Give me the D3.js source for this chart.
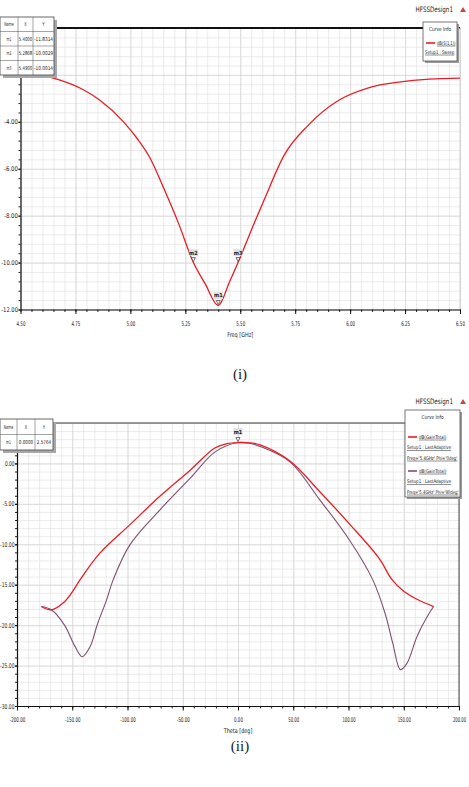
<!DOCTYPE html>
<html>
<head>
<meta charset="utf-8">
<script src="https://cdn.jsdelivr.net/npm/d3@7"></script>
<style>
  body { margin: 0; background: #fff; }
  svg text { font-family: "Liberation Sans Narrow", "DejaVu Sans Condensed", "Liberation Sans", sans-serif; fill: #222; }
  svg text.cap { font-family: "Liberation Serif", "DejaVu Serif", serif; font-size: 15px; }
  .leg text.u { text-decoration: underline; }
</style>
</head>
<body>
<div id="chart"></div>
<script>
// ---- panel (i): return loss ----
const freq = [4.50, 4.60, 4.68, 4.78, 4.86, 4.97, 5.03, 5.09, 5.155, 5.22, 5.2868, 5.34, 5.40, 5.45, 5.49, 5.56, 5.61, 5.70, 5.81, 5.95, 6.08, 6.22, 6.36, 6.50];
const s11 = [-1.88, -2.02, -2.22, -2.60, -3.07, -4.01, -4.70, -5.55, -6.90, -8.35, -10.00, -10.90, -11.83, -10.85, -10.00, -8.40, -7.30, -5.42, -4.14, -3.07, -2.56, -2.31, -2.18, -2.14];
const s11MarkerNames = ["m1", "m2", "m3"];
const s11MarkerX = [5.4000, 5.2868, 5.4900];
const s11MarkerY = [-11.8314, -10.0029, -10.0014];
const freqTicks = [4.50, 4.75, 5.00, 5.25, 5.50, 5.75, 6.00, 6.25, 6.50];
const s11Ticks = [0, -2, -4, -6, -8, -10, -12];

// ---- panel (ii): gain pattern ----
const thetaPhi0 = [-178, -169, -157, -149, -143, -125, -98, -71, -43, -21, -10, 0, 10, 20, 47, 74, 101, 128, 139, 150, 162, 177];
const gainPhi0 = [-17.7, -18.1, -17.1, -15.7, -14.4, -11.1, -7.6, -4.1, -0.8, 1.9, 2.45, 2.58, 2.55, 2.3, 0.3, -3.5, -7.5, -11.8, -14.3, -15.8, -16.8, -17.7];
const thetaPhi90 = [-178, -169, -157, -148, -141, -134, -127, -119, -113, -98, -71, -43, -21, 0, 10, 20, 47, 74, 101, 122, 133, 140, 147, 153, 162, 171, 177];
const gainPhi90 = [-17.7, -18.1, -20.0, -22.5, -23.9, -22.7, -19.8, -16.9, -14.4, -10.1, -5.8, -1.8, 1.4, 2.58, 2.5, 2.1, 0.2, -4.5, -9.5, -14.4, -18.5, -22.2, -25.5, -24.7, -21.4, -19.0, -17.7];
const gainMarkerNames = ["m1"];
const gainMarkerX = [0.0000];
const gainMarkerY = [2.5764];
const thetaTicks = [-200, -150, -100, -50, 0, 50, 100, 150, 200];
const gainTicks = [5, 0, -5, -10, -15, -20, -25, -30];

const width = 469, height = 787;
const red = "#ec1c24", purple = "#7e4f72";

const svg = d3.select("#chart").append("svg")
  .attr("width", width)
  .attr("height", height)
  .attr("viewBox", [0, 0, width, height]);

const fmt = d => d.toFixed(2);

// HFSS text is very narrow, so force widths per character
function squeeze(sel, perChar) {
  sel.each(function () {
    const t = d3.select(this);
    t.attr("textLength", t.text().length * perChar).attr("lengthAdjust", "spacingAndGlyphs");
  });
}

// draws grid, axes and frame, hands the scales back
function panel(o) {
  const x = d3.scaleLinear().domain(o.xDomain).range([o.left, o.right]);
  const y = d3.scaleLinear().domain(o.yDomain).range([o.bottom, o.top]);
  const ih = o.bottom - o.top, iw = o.right - o.left;
  const g = svg.append("g");

  // minor grid
  g.append("g").attr("class", "grid")
    .attr("transform", `translate(0,${o.bottom})`)
    .call(d3.axisBottom(x).tickValues(o.xMinor).tickSize(-ih).tickFormat("").tickSizeOuter(0));
  g.append("g").attr("class", "grid")
    .attr("transform", `translate(${o.left},0)`)
    .call(d3.axisLeft(y).tickValues(o.yMinor).tickSize(-iw).tickFormat("").tickSizeOuter(0));
  g.selectAll(".grid .domain").remove();
  g.selectAll(".grid line").attr("stroke", "#e6e6e6").attr("stroke-width", 0.8);

  // major grid a touch darker
  g.append("g").attr("class", "gridM")
    .attr("transform", `translate(0,${o.bottom})`)
    .call(d3.axisBottom(x).tickValues(o.xTicks).tickSize(-ih).tickFormat("").tickSizeOuter(0));
  g.append("g").attr("class", "gridM")
    .attr("transform", `translate(${o.left},0)`)
    .call(d3.axisLeft(y).tickValues(o.yTicks).tickSize(-iw).tickFormat("").tickSizeOuter(0));
  g.selectAll(".gridM .domain").remove();
  g.selectAll(".gridM line").attr("stroke", "#d8d8d8").attr("stroke-width", 0.8);

  // frame: top + right
  g.append("line").attr("x1", o.left).attr("x2", o.right).attr("y1", o.top).attr("y2", o.top)
    .attr("stroke", o.topColor).attr("stroke-width", o.topWidth);
  g.append("line").attr("x1", o.right).attr("x2", o.right).attr("y1", o.top).attr("y2", o.bottom)
    .attr("stroke", o.rightColor).attr("stroke-width", 1);

  // minor ticks
  g.append("g").attr("class", "minor")
    .attr("transform", `translate(0,${o.bottom})`)
    .call(d3.axisBottom(x).tickValues(o.xMinor).tickSize(2.5).tickFormat("").tickSizeOuter(0));
  g.append("g").attr("class", "minor")
    .attr("transform", `translate(${o.left},0)`)
    .call(d3.axisLeft(y).tickValues(o.yMinor).tickSize(2).tickFormat("").tickSizeOuter(0));
  g.selectAll(".minor .domain").remove();
  g.selectAll(".minor line").attr("stroke", "#222");

  // major axes
  const xa = g.append("g")
    .attr("transform", `translate(0,${o.bottom})`)
    .call(d3.axisBottom(x).tickValues(o.xTicks).tickFormat(fmt).tickSizeInner(4.5).tickSizeOuter(0).tickPadding(7));
  // labels sitting under the marker table are hidden there anyway
  const ya = g.append("g")
    .attr("transform", `translate(${o.left},0)`)
    .call(d3.axisLeft(y).tickValues(o.yTicks).tickFormat(d => y(d) < o.hideAbove ? "" : fmt(d))
      .tickSizeInner(2).tickSizeOuter(0).tickPadding(0.5));
  [xa, ya].forEach(a => {
    a.select(".domain").attr("stroke", "#111").attr("stroke-width", 1.2);
    a.selectAll("line").attr("stroke", "#111");
    a.selectAll("text").attr("font-size", 6.5).attr("fill", "#222")
      .attr("font-family", '"Liberation Sans Narrow", "DejaVu Sans Condensed", sans-serif');
  });
  xa.selectAll("text").call(squeeze, 2.2);
  // last label hugs the page edge: anchor it at its right end instead
  xa.selectAll("text").filter(d => x(d) + 12 > width)
    .attr("text-anchor", "end")
    .attr("x", d => fmt(d).length * 1.1);
  ya.selectAll("text").call(squeeze, o.yPer);

  g.append("text")
    .attr("x", (o.left + o.right) / 2)
    .attr("y", o.bottom + 27)
    .attr("text-anchor", "middle")
    .attr("font-size", 6.5)
    .text(o.xLabel)
    .call(squeeze, 2.6);

  return { x, y, g };
}

function markers(p, names, xs, ys, dy) {
  names.forEach((n, i) => {
    const px = p.x(xs[i]), py = p.y(ys[i]);
    p.g.append("path")
      .attr("d", `M${px - 2},${py - 5}L${px + 2},${py - 5}L${px},${py - 1}Z`)
      .attr("fill", "#fff").attr("stroke", "#333").attr("stroke-width", 0.7);
    p.g.append("rect")
      .attr("x", px - 4.5).attr("y", py - dy - 3.5).attr("width", 9).attr("height", 7)
      .attr("fill", "#d9d9d9").attr("fill-opacity", 0.85);
    p.g.append("text")
      .attr("x", px).attr("y", py - dy)
      .attr("dy", "0.35em")
      .attr("text-anchor", "middle")
      .attr("font-size", 5.5)
      .attr("font-weight", "bold")
      .text(n);
  });
}

function table(x0, y0, cols, rowH, rows) {
  const w = d3.sum(cols), h = rowH * rows.length;
  const g = svg.append("g");
  g.append("rect").attr("x", x0 + 3).attr("y", y0 + 3).attr("width", w).attr("height", h).attr("fill", "#a8a8a8");
  g.append("rect").attr("x", x0).attr("y", y0).attr("width", w).attr("height", h)
    .attr("fill", "#fff").attr("stroke", "#444").attr("stroke-width", 0.8);
  let cx = x0;
  cols.forEach((c, j) => {
    if (j > 0) g.append("line").attr("x1", cx).attr("x2", cx).attr("y1", y0).attr("y2", y0 + h).attr("stroke", "#666").attr("stroke-width", 0.6);
    rows.forEach((r, i) => {
      if (j === 0 && i > 0) g.append("line").attr("x1", x0).attr("x2", x0 + w).attr("y1", y0 + i * rowH).attr("y2", y0 + i * rowH).attr("stroke", "#666").attr("stroke-width", 0.6);
      g.append("text")
        .attr("x", cx + c / 2)
        .attr("y", y0 + i * rowH + rowH / 2)
        .attr("dy", "0.35em")
        .attr("text-anchor", "middle")
        .attr("font-size", 5.3)
        .text(r[j])
        .call(squeeze, Math.min(2.4, (c - 1.5) / String(r[j]).length));
    });
    cx += c;
  });
}

function legend(x0, y0, w, h, entries) {
  const g = svg.append("g").attr("class", "leg");
  g.append("rect").attr("x", x0 + 2).attr("y", y0 + 2).attr("width", w).attr("height", h).attr("fill", "#9a9a9a");
  g.append("rect").attr("x", x0).attr("y", y0).attr("width", w).attr("height", h)
    .attr("fill", "#fff").attr("stroke", "#555").attr("stroke-width", 0.8);
  g.append("text").attr("x", x0 + w / 2).attr("y", y0 + 9).attr("text-anchor", "middle")
    .attr("font-size", 5.5).text("Curve Info").call(squeeze, 2.2);
  entries.forEach(e => {
    g.append("line").attr("x1", x0 + 3).attr("x2", x0 + 12).attr("y1", e.y).attr("y2", e.y)
      .attr("stroke", e.color).attr("stroke-width", 1.6);
    e.lines.forEach((t, k) => {
      const tx = k === 0 ? x0 + 14 : x0 + 2;
      g.append("text")
        .attr("class", "u")
        .attr("x", tx)
        .attr("y", e.y + k * e.step)
        .attr("dy", "0.35em")
        .attr("font-size", 5)
        .text(t)
        .call(squeeze, Math.min(2.1, (x0 + w - 1.5 - tx) / t.length));
    });
  });
}

function title(y) {
  svg.append("text").attr("x", 453).attr("y", y).attr("text-anchor", "end")
    .attr("font-size", 7.5).attr("fill", "#333").text("HFSSDesign1").call(squeeze, 3.4);
  svg.append("path").attr("d", `M460,${y}L466,${y}L463,${y - 5}Z`).attr("fill", "#c44");
}

// ---------- panel (i) ----------
const p1 = panel({
  xDomain: [4.5, 6.5], yDomain: [-12, 0],
  left: 20.5, right: 460, top: 28, bottom: 309.5,
  xTicks: freqTicks, yTicks: s11Ticks,
  xMinor: d3.range(4.5, 6.501, 0.05), yMinor: d3.range(-12, 0.001, 0.4),
  topColor: "#111", topWidth: 2, rightColor: "#cfcfcf", yPer: 2.8, hideAbove: 78,
  xLabel: "Freq [GHz]"
});

const line1 = d3.line()
  .x((d, i) => p1.x(freq[i]))
  .y(d => p1.y(d))
  .curve(d3.curveMonotoneX);

p1.g.append("path")
  .datum(s11)
  .attr("fill", "none")
  .attr("stroke", red)
  .attr("stroke-width", 1.3)
  .attr("d", line1);

markers(p1, s11MarkerNames, s11MarkerX, s11MarkerY, 10);

table(0, 17, [18, 15, 21], 14.5, [["Name", "X", "Y"]].concat(
  s11MarkerNames.map((n, i) => [n, s11MarkerX[i].toFixed(4), s11MarkerY[i].toFixed(4)])));

title(12);
legend(423, 22, 34, 39, [
  { color: red, y: 43, step: 9, lines: ["dB(S(1,1))", "Setup1 : Sweep"] }
]);

svg.append("text").attr("class", "cap").attr("x", 240).attr("y", 379).attr("text-anchor", "middle").text("(i)");

// ---------- panel (ii) ----------
const p2 = panel({
  xDomain: [-200, 200], yDomain: [-30, 5],
  left: 17, right: 459, top: 423, bottom: 706,
  xTicks: thetaTicks, yTicks: gainTicks,
  xMinor: d3.range(-200, 200.1, 10), yMinor: d3.range(-30, 5.01, 1),
  topColor: "#777", topWidth: 1.4, rightColor: "#444", yPer: 2.4, hideAbove: 452,
  xLabel: "Theta [deg]"
});

const line2 = xs => d3.line()
  .x((d, i) => p2.x(xs[i]))
  .y(d => p2.y(d))
  .curve(d3.curveCatmullRom);

p2.g.append("path")
  .datum(gainPhi90)
  .attr("fill", "none")
  .attr("stroke", purple)
  .attr("stroke-width", 1.1)
  .attr("d", line2(thetaPhi90));

p2.g.append("path")
  .datum(gainPhi0)
  .attr("fill", "none")
  .attr("stroke", red)
  .attr("stroke-width", 1.3)
  .attr("d", line2(thetaPhi0));

markers(p2, gainMarkerNames, gainMarkerX, gainMarkerY, 11);

table(0, 419, [17, 18, 18], 15.5, [["Name", "X", "Y"]].concat(
  gainMarkerNames.map((n, i) => [n, gainMarkerX[i].toFixed(4), gainMarkerY[i].toFixed(4)])));

title(404);
legend(405, 410, 55, 87, [
  { color: red, y: 437, step: 10.5, lines: ["dB(GainTotal)", "Setup1 : LastAdaptive", "Freq='5.4GHz' Phi='0deg'"] },
  { color: purple, y: 471, step: 10.5, lines: ["dB(GainTotal)", "Setup1 : LastAdaptive", "Freq='5.4GHz' Phi='90deg'"] }
]);

svg.append("text").attr("class", "cap").attr("x", 240).attr("y", 751).attr("text-anchor", "middle").text("(ii)");
</script>
</body>
</html>
